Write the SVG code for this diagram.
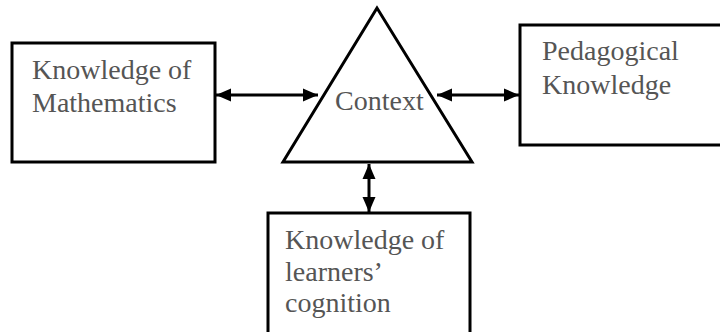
<svg xmlns="http://www.w3.org/2000/svg" width="720" height="332" viewBox="0 0 720 332">
<defs>
<marker id="ah" markerUnits="userSpaceOnUse" markerWidth="16" markerHeight="16" viewBox="0 0 16 16" refX="15" refY="8" orient="auto-start-reverse">
<path d="M0,1.5 L15,8 L0,14.5 Z" fill="#000"/>
</marker>
<style>
.box{fill:#fff;stroke:#000;stroke-width:3}
.lbl{font-family:"Liberation Serif","Times New Roman",serif;font-size:28px;fill:#555}
.conn{stroke:#000;stroke-width:3;fill:none;marker-start:url(#ah);marker-end:url(#ah)}
</style>
</defs>
<rect width="720" height="332" fill="#fff"/>
<g id="math">
<rect class="box" x="12" y="43" width="203" height="119"/>
<text class="lbl" x="32" y="79">Knowledge of</text>
<text class="lbl" x="32" y="112">Mathematics</text>
</g>
<g id="context">
<polygon class="box" points="377,8 283,162 472,162"/>
<text class="lbl" x="335" y="110">Context</text>
</g>
<g id="pedagogical">
<rect class="box" x="520" y="25" width="210" height="120"/>
<text class="lbl" x="542" y="60">Pedagogical</text>
<text class="lbl" x="542" y="94">Knowledge</text>
</g>
<g id="learners">
<rect class="box" x="268" y="213" width="202" height="130"/>
<text class="lbl" x="285" y="249">Knowledge of</text>
<text class="lbl" x="285" y="281">learners’</text>
<text class="lbl" x="285" y="312">cognition</text>
</g>
<g id="connectors">
<line class="conn" x1="216" y1="95" x2="318" y2="95"/>
<line class="conn" x1="437" y1="95" x2="519" y2="95"/>
<line class="conn" x1="369" y1="164" x2="369" y2="212"/>
</g>
</svg>
